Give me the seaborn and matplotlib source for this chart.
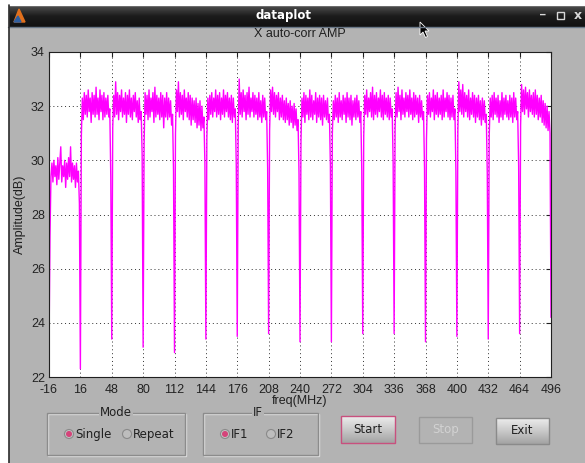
import numpy as np
import matplotlib
matplotlib.use("Agg")
import matplotlib.pyplot as plt
from matplotlib.patches import Rectangle, Circle, Polygon
import seaborn as sns

# Data: one sample per MHz, -16 .. 496 MHz
freq_start = -16
amp_db = [
    # -16 .. 15
    23.0, 27.2, 29.4, 29.9, 29.2, 30.0, 29.4, 29.8, 29.1, 30.1, 29.3, 29.9, 30.5, 29.2, 29.8, 29.4,
    30.0, 29.0, 29.9, 29.3, 30.1, 29.4, 30.5, 29.2, 29.9, 29.3, 29.8, 29.0, 29.9, 29.2, 29.6, 28.4,
    # 16 .. 47
    22.3, 30.9, 32.3, 31.5, 32.5, 31.7, 32.4, 31.6, 32.6, 31.8, 32.3, 31.4, 32.5, 31.7, 32.4, 31.6,
    32.7, 31.7, 32.3, 31.5, 32.6, 31.8, 32.4, 31.5, 32.5, 31.6, 32.3, 31.7, 32.4, 31.6, 31.9, 29.4,
    # 48 .. 79
    23.4, 31.2, 32.4, 31.6, 32.9, 31.7, 32.5, 31.5, 32.4, 31.8, 32.6, 31.6, 32.3, 31.7, 32.5, 31.4,
    32.4, 31.7, 32.6, 31.6, 32.3, 31.5, 32.4, 31.8, 32.5, 31.6, 32.2, 31.4, 32.3, 31.5, 31.8, 30.2,
    # 80 .. 111
    23.1, 30.6, 32.5, 31.7, 32.4, 31.5, 32.6, 31.6, 32.3, 31.8, 32.5, 31.4, 32.7, 31.6, 32.4, 31.7,
    32.3, 31.5, 32.5, 31.6, 32.4, 31.2, 32.3, 31.6, 32.5, 31.5, 32.3, 31.6, 32.2, 31.3, 31.7, 29.6,
    # 112 .. 143
    22.9, 31.0, 32.6, 31.8, 32.9, 31.6, 32.5, 31.7, 32.4, 31.5, 32.6, 31.8, 32.3, 31.6, 32.5, 31.5,
    32.4, 31.3, 32.3, 31.5, 32.2, 31.4, 32.3, 31.2, 32.1, 31.3, 32.2, 31.1, 32.0, 31.2, 31.6, 29.9,
    # 144 .. 175
    23.4, 30.8, 32.3, 31.5, 32.4, 31.7, 32.5, 31.6, 32.3, 31.8, 32.6, 31.6, 32.4, 31.7, 32.5, 31.5,
    32.3, 31.7, 32.6, 31.6, 32.4, 31.8, 32.5, 31.6, 32.3, 31.5, 32.4, 31.4, 32.3, 31.6, 31.9, 29.8,
    # 176 .. 207
    23.5, 31.3, 33.0, 31.7, 32.5, 31.6, 32.6, 31.8, 32.4, 31.5, 32.5, 31.7, 32.7, 31.6, 32.3, 31.8,
    32.5, 31.6, 32.4, 31.7, 32.3, 31.5, 32.5, 31.6, 32.2, 31.4, 32.4, 31.6, 32.3, 31.5, 31.8, 29.7,
    # 208 .. 239
    23.6, 31.1, 32.6, 31.8, 32.7, 31.7, 32.5, 31.6, 32.4, 31.8, 32.5, 31.5, 32.3, 31.6, 32.4, 31.5,
    32.2, 31.4, 32.3, 31.5, 32.1, 31.3, 32.2, 31.4, 32.0, 31.2, 32.1, 31.3, 31.9, 31.1, 31.5, 29.5,
    # 240 .. 271
    23.3, 30.7, 32.3, 31.6, 32.5, 31.4, 32.4, 31.7, 32.3, 31.5, 32.6, 31.6, 32.4, 31.5, 32.2, 31.7,
    32.5, 31.4, 32.3, 31.6, 32.4, 31.5, 32.3, 31.3, 32.4, 31.6, 32.2, 31.5, 32.3, 31.4, 31.7, 29.8,
    # 272 .. 303
    23.3, 31.0, 32.2, 31.5, 32.4, 31.6, 32.3, 31.4, 32.5, 31.6, 32.2, 31.5, 32.4, 31.7, 32.3, 31.4,
    32.5, 31.6, 32.3, 31.5, 32.4, 31.3, 32.2, 31.6, 32.3, 31.5, 32.4, 31.6, 32.2, 31.4, 31.8, 29.6,
    # 304 .. 335
    23.6, 30.9, 32.4, 31.7, 32.6, 31.6, 32.3, 31.8, 32.5, 31.6, 32.7, 31.5, 32.4, 31.7, 32.5, 31.6,
    32.3, 31.8, 32.6, 31.6, 32.4, 31.5, 32.5, 31.7, 32.3, 31.6, 32.4, 31.5, 32.3, 31.6, 31.9, 29.9,
    # 336 .. 367
    23.6, 31.2, 32.5, 31.6, 32.7, 31.8, 32.4, 31.5, 32.6, 31.7, 32.3, 31.6, 32.5, 31.8, 32.4, 31.6,
    32.6, 31.7, 32.3, 31.5, 32.5, 31.6, 32.4, 31.7, 32.3, 31.4, 32.4, 31.6, 32.2, 31.5, 31.8, 29.7,
    # 368 .. 399
    23.3, 30.8, 32.4, 31.7, 32.5, 31.6, 32.3, 31.8, 32.6, 31.5, 32.4, 31.7, 32.5, 31.6, 32.3, 31.7,
    32.4, 31.5, 32.6, 31.6, 32.3, 31.8, 32.5, 31.6, 32.4, 31.5, 32.3, 31.6, 32.4, 31.5, 31.9, 29.6,
    # 400 .. 431
    23.5, 31.1, 32.9, 31.8, 32.6, 31.7, 32.8, 31.6, 32.5, 31.8, 32.4, 31.6, 32.6, 31.5, 32.3, 31.7,
    32.5, 31.6, 32.4, 31.4, 32.3, 31.6, 32.4, 31.5, 32.2, 31.3, 32.3, 31.5, 32.2, 31.4, 31.7, 29.5,
    # 432 .. 463
    23.4, 30.9, 32.3, 31.6, 32.4, 31.5, 32.5, 31.7, 32.3, 31.6, 32.4, 31.4, 32.2, 31.6, 32.5, 31.5,
    32.3, 31.7, 32.4, 31.6, 32.2, 31.5, 32.4, 31.6, 32.3, 31.4, 32.5, 31.6, 32.3, 31.5, 31.8, 29.8,
    # 464 .. 495
    23.6, 31.3, 32.8, 31.8, 32.6, 31.7, 32.7, 31.9, 32.5, 31.6, 32.6, 31.8, 32.4, 31.7, 32.5, 31.6,
    32.6, 31.7, 32.4, 31.5, 32.3, 31.6, 32.4, 31.4, 32.2, 31.3, 32.1, 31.2, 32.0, 31.1, 31.8, 31.0,
    # 496
    24.2,
]
freq_ticks = [-16, 16, 48, 80, 112, 144, 176, 208, 240, 272, 304, 336, 368, 400, 432, 464, 496]
amp_ticks = [22, 24, 26, 28, 30, 32, 34]

freq = freq_start + np.arange(len(amp_db))

gray = '#b3b3b3'
sns.set_style('white')
plt.rcParams['font.family'] = ['DejaVu Sans']
plt.rcParams['axes.unicode_minus'] = False
plot_font = 'Liberation Sans'

W, H = 585, 463
fig = plt.figure(figsize=(W / 100, H / 100), dpi=100, facecolor=gray)

# window chrome, drawn in pixel coordinates
bg = fig.add_axes([0, 0, 1, 1], zorder=-1)
bg.set_xlim(0, W)
bg.set_ylim(H, 0)
bg.axis('off')
bg.add_patch(Rectangle((0, 0), 8, H, color='white'))
bg.add_patch(Rectangle((0, 0), W, 5, color='white'))
grad = np.linspace(0, 1, 30).reshape(-1, 1)
bg.imshow(grad, extent=(8, W, 27, 5), aspect='auto', cmap=sns.blend_palette(['#505050', '#1c1c1c', '#111111'], as_cmap=True))
bg.plot([8, W], [26.5, 26.5], color='#6a7888', lw=1)
bg.plot([8.5, 8.5], [5, H], color='#2a2a2a', lw=1.2)
bg.text(283, 15.5, 'dataplot', color='white', fontsize=8.5, fontweight='bold', ha='center', va='center')
bg.add_patch(Polygon([(14, 22), (19, 9), (25, 22)], color='#e2701c'))
bg.add_patch(Polygon([(14, 22), (18, 16), (21, 22)], color='#2f5fa0'))
bg.text(543, 15, '_', color='#d8d8d8', fontsize=8, fontweight='bold', ha='center', va='bottom')
bg.add_patch(Rectangle((556.5, 11.5), 7, 7, fill=False, edgecolor='#d8d8d8', lw=1))
bg.text(578, 15.5, 'x', color='#d8d8d8', fontsize=9, fontweight='bold', ha='center', va='center')
bg.add_patch(Polygon([(420, 22), (420, 35), (423, 32), (425.5, 37.5), (427.5, 36.5), (425, 31), (429, 31)],
                     facecolor='black', edgecolor='white', lw=0.6))
bg.set_xlim(0, W)
bg.set_ylim(H, 0)


def group_box(x0, x1, title, tx):
    bg.add_patch(Rectangle((x0 + 1, 414), x1 - x0, 42, fill=False, edgecolor='#dcdcdc', lw=1))
    bg.add_patch(Rectangle((x0, 413), x1 - x0, 42, fill=False, edgecolor='#8c8c8c', lw=1))
    bg.text(tx, 412, title, fontsize=8.5, color='#202020', ha='center', va='center',
            bbox=dict(facecolor=gray, edgecolor='none', pad=0.5))


def radio(x, label, on):
    bg.add_patch(Circle((x, 434), 4.5, facecolor='#c4c4c4' if on else '#bdbdbd', edgecolor='#8a8a8a', lw=0.8))
    if on:
        bg.add_patch(Circle((x, 434), 2.3, color='#d4447a'))
    bg.text(x + 6, 434.5, label, fontsize=8.5, color='#202020', ha='left', va='center')


def button(x0, x1, y0, y1, label, edge, tcol):
    g = np.linspace(0, 1, 30).reshape(-1, 1)
    bg.imshow(g, extent=(x0, x1, y1, y0), aspect='auto',
              cmap=sns.blend_palette(['#ececec', '#c9c9c9', '#a4a4a4'], as_cmap=True))
    bg.add_patch(Rectangle((x0, y0), x1 - x0, y1 - y0, fill=False, edgecolor=edge, lw=1))
    bg.text((x0 + x1) / 2, (y0 + y1) / 2, label, fontsize=8.5, color=tcol, ha='center', va='center')


group_box(47, 185, 'Mode', 116)
radio(69, 'Single', True)
radio(127, 'Repeat', False)
group_box(203, 318, 'IF', 258)
radio(225, 'IF1', True)
radio(271, 'IF2', False)
button(341, 395, 416, 443, 'Start', '#c8507e', '#202020')
bg.add_patch(Rectangle((419, 417), 53, 26, facecolor=gray, edgecolor='#9a9a9a', lw=1))
bg.text(445.5, 430, 'Stop', fontsize=8.5, color='#d2d2d2', ha='center', va='center')
button(496, 549, 418, 444, 'Exit', '#8a8a8a', '#202020')
bg.set_xlim(0, W)
bg.set_ylim(H, 0)

# the plot itself
ax = fig.add_axes([49 / W, 1 - 377 / H, 502 / W, 325 / H])
ax.set_facecolor('white')
sns.lineplot(x=freq, y=amp_db, ax=ax, color='#ff00ff', linewidth=1.0, estimator=None, sort=False)
ax.set_xlim(-16, 496)
ax.set_ylim(22, 34)
ax.set_xticks(freq_ticks)
ax.set_yticks(amp_ticks)
ax.grid(True, linestyle=(0, (1, 3)), color='#303030', linewidth=0.7)
ax.tick_params(direction='in', length=3.6, width=0.8, top=True, right=True,
               labelsize=9, labelcolor='#222222', color='#202020')
ax.tick_params(axis='x', pad=5)
ax.tick_params(axis='y', pad=3)
for lab in ax.get_xticklabels() + ax.get_yticklabels():
    lab.set_fontfamily(plot_font)
for s in ax.spines.values():
    s.set_color('#202020')
    s.set_linewidth(0.8)
ax.set_title('X auto-corr AMP', fontsize=9, color='#202020', pad=11, fontfamily=plot_font)
ax.set_xlabel('freq(MHz)', fontsize=9, color='#202020', va='center', fontfamily=plot_font)
ax.xaxis.set_label_coords(0.5, -0.075)
ax.set_ylabel('Amplitude(dB)', fontsize=9, color='#202020', va='center', fontfamily=plot_font)
ax.yaxis.set_label_coords(-0.058, 0.5)

fig.savefig('out.png', dpi=100, facecolor=gray)
